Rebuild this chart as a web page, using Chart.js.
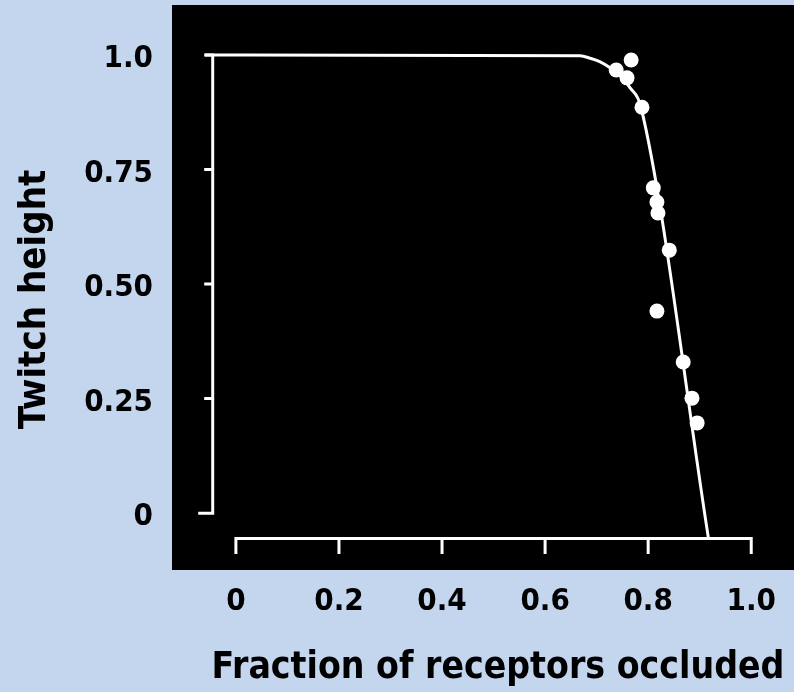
<!DOCTYPE html>
<html lang="en">
  <head>
    <meta charset="UTF-8" />
    <title>Twitch height vs fraction of receptors occluded</title>
    <script src="https://cdn.jsdelivr.net/npm/chart.js"></script>
    <style>
      body { margin: 0; background: #c4d5ee; }
      canvas { display: block; }
    </style>
  </head>
  <body>
    <canvas id="chart" width="794" height="692"></canvas>
    <script>
      // measured points (fraction occluded, twitch height)
      const pointX = [0.738, 0.767, 0.759, 0.788, 0.810, 0.817, 0.819, 0.841, 0.817, 0.868, 0.885, 0.895];
      const pointY = [0.967, 0.989, 0.950, 0.886, 0.710, 0.679, 0.655, 0.574, 0.441, 0.330, 0.251, 0.197];

      // fitted curve
      const curveX = [-0.060, 0.668, 0.687, 0.707, 0.726, 0.746, 0.765, 0.786, 0.917];
      const curveY = [1.000, 0.998, 0.993, 0.985, 0.972, 0.954, 0.928, 0.886, -0.055];

      const xTicks = [0, 0.2, 0.4, 0.6, 0.8, 1.0];
      const xTickLabels = ["0", "0.2", "0.4", "0.6", "0.8", "1.0"];
      const yTicks = [0, 0.25, 0.5, 0.75, 1.0];
      const yTickLabels = ["0", "0.25", "0.50", "0.75", "1.0"];

      const xTitle = "Fraction of receptors occluded";
      const yTitle = "Twitch height";

      const FONT = "'DejaVu Sans Condensed', 'DejaVu Sans', sans-serif";
      const yAxisAt = -0.045;   // where the drawn y axis sits (x value)
      const xAxisAt = -0.055;   // where the drawn x axis sits (y value)

      // black panel + hand-drawn white axes like the original figure
      const framePlugin = {
        id: "frame",
        beforeDraw(chart) {
          const { ctx, chartArea: a } = chart;
          ctx.save();
          ctx.fillStyle = "#000";
          ctx.fillRect(a.left, a.top, a.right - a.left, a.bottom - a.top);
          ctx.restore();
        },
        beforeDatasetsDraw(chart) {
          const { ctx } = chart;
          const xs = chart.scales.x, ys = chart.scales.y;
          ctx.save();
          ctx.strokeStyle = "#fff";
          ctx.lineWidth = 3;
          ctx.lineCap = "square";

          // y axis
          const ax = xs.getPixelForValue(yAxisAt);
          ctx.beginPath();
          ctx.moveTo(ax, ys.getPixelForValue(1));
          ctx.lineTo(ax, ys.getPixelForValue(0));
          yTicks.forEach(v => {
            const py = ys.getPixelForValue(v);
            ctx.moveTo(ax, py);
            ctx.lineTo(ax - (v === 0 ? 13 : 7), py);
          });
          ctx.stroke();

          // x axis
          const ay = ys.getPixelForValue(xAxisAt);
          ctx.beginPath();
          ctx.moveTo(xs.getPixelForValue(0), ay);
          ctx.lineTo(xs.getPixelForValue(1), ay);
          xTicks.forEach(v => {
            const px = xs.getPixelForValue(v);
            ctx.moveTo(px, ay);
            ctx.lineTo(px, ay + 14);
          });
          ctx.stroke();
          ctx.restore();
        },
        afterDraw(chart) {
          const { ctx, chartArea: a } = chart;
          ctx.save();
          ctx.fillStyle = "#000";
          ctx.textAlign = "center";
          ctx.textBaseline = "middle";
          ctx.font = "bold 37px " + FONT;
          ctx.fillText(xTitle, (a.left + a.right) / 2 + 15, a.bottom + 98);
          ctx.font = "bold 38px " + FONT;
          ctx.translate(35, (a.top + a.bottom) / 2 + 12);
          ctx.rotate(-Math.PI / 2);
          ctx.fillText(yTitle, 0, 0);
          ctx.restore();
        }
      };

      const tickFont = { family: FONT, size: 31, weight: "bold" };
      const noPad = s => { s.paddingTop = 0; s.paddingBottom = 0; s.paddingLeft = 0; s.paddingRight = 0; };

      new Chart(document.getElementById("chart"), {
        type: "scatter",
        data: {
          datasets: [
            {
              type: "line",
              label: "fit",
              data: curveX.map((x, i) => ({ x, y: curveY[i] })),
              borderColor: "#fff",
              borderWidth: 3,
              pointRadius: 0,
              cubicInterpolationMode: "monotone",
              fill: false
            },
            {
              label: "data",
              data: pointX.map((x, i) => ({ x, y: pointY[i] })),
              backgroundColor: "#fff",
              borderWidth: 0,
              pointRadius: 7.5
            }
          ]
        },
        options: {
          responsive: false,
          devicePixelRatio: 1,
          animation: false,
          layout: { autoPadding: false, padding: { top: 5, right: 0, left: 0, bottom: 0 } },
          plugins: { legend: { display: false }, tooltip: { enabled: false } },
          scales: {
            x: {
              type: "linear",
              min: -0.124,
              max: 1.083,
              grid: { display: false },
              border: { display: false },
              afterBuildTicks: s => { s.ticks = xTicks.map(v => ({ value: v })); },
              afterFit: s => { s.height = 122; noPad(s); },
              ticks: {
                color: "#000",
                font: tickFont,
                padding: 5,
                maxRotation: 0,
                autoSkip: false,
                callback: (v, i) => xTickLabels[i]
              }
            },
            y: {
              type: "linear",
              min: -0.124,
              max: 1.109,
              grid: { display: false },
              border: { display: false },
              afterBuildTicks: s => { s.ticks = yTicks.map(v => ({ value: v })); },
              afterFit: s => { s.width = 172; noPad(s); },
              ticks: {
                color: "#000",
                font: tickFont,
                padding: 11,
                labelOffset: 4,
                autoSkip: false,
                callback: (v, i) => yTickLabels[i]
              }
            }
          }
        },
        plugins: [framePlugin]
      });
    </script>
  </body>
</html>
